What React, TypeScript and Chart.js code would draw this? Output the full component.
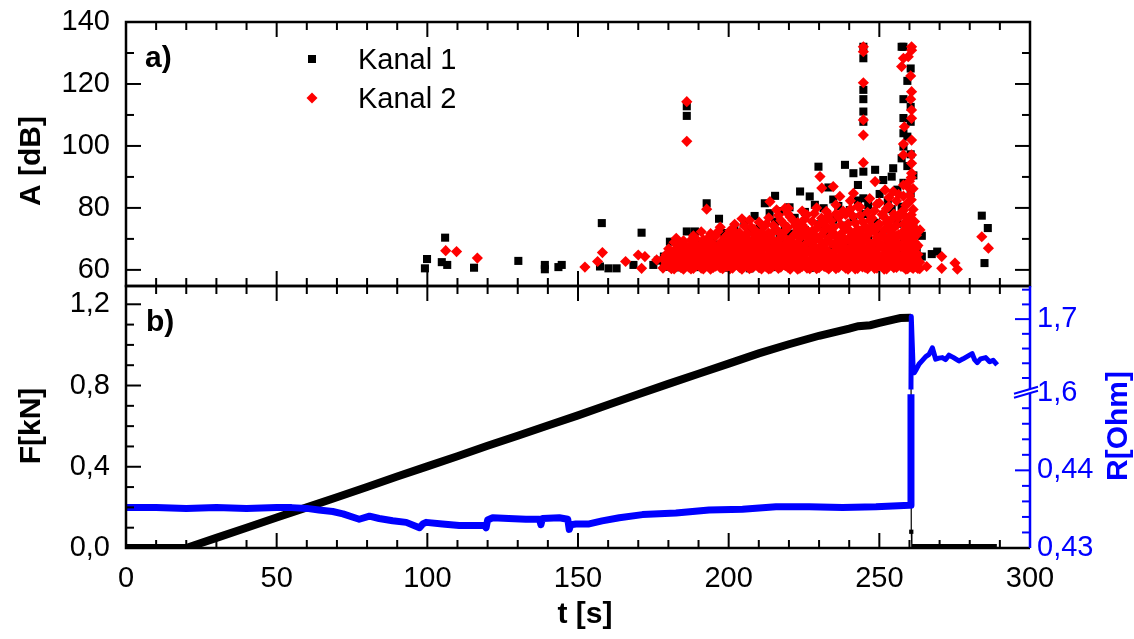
import React, { useEffect, useRef } from 'react';
import { Chart, registerables } from 'chart.js';

Chart.register(...registerables);

const FONT = "'Liberation Sans', Arial, Helvetica, sans-serif";
const BLUE = '#0000ff';
const RED = '#ff0000';
const BLACK = '#000000';
Chart.defaults.font.family = FONT;

// ---------- Panel a): acoustic emission amplitude [dB] vs time [s] ----------
// each entry: [time t (s), amplitudes A (dB) observed at that time]
const kanal1Columns: [number, number[]][] = [
  [99.2, [60.5]], [99.9, [63.5]], [104.8, [62.5]], [105.9, [70.4]], [106.6, [61.6]], [115.5, [60.7]],
  [130.2, [62.9]], [139.0, [60.2, 61.6]], [143.5, [60.9]], [144.6, [61.6]], [157.3, [61.1]], [157.9, [75.1]],
  [160.1, [60.5]], [162.8, [60.5]], [168.4, [61.6]], [171.1, [72.0]], [175.0, [61.6]], [176.5, [63.0]],
  [178.5, [61.0, 64.3]], [180.5, [62.2, 69.1]], [182.4, [60.8, 65.7]], [184.1, [63.5, 67.2]],
  [186.1, [61.6, 72.4, 109.7, 112.8]], [188.8, [60.9, 66.3, 72.4]], [190.5, [63.0, 68.8]],
  [192.7, [61.8, 66.0, 81.5]], [194.2, [64.9, 70.6]], [196.8, [62.4, 68.2, 76.5]], [198.4, [60.7, 65.4, 71.9]],
  [200.2, [63.8, 69.5]], [201.9, [61.3, 67.0, 73.8]], [203.5, [64.6, 70.9]], [205.2, [62.1, 68.4, 75.0]],
  [207.0, [60.5, 66.6, 72.7]], [208.6, [63.3, 69.8, 77.4]], [210.3, [61.9, 67.7, 74.1]], [212.0, [64.2, 71.3, 81.5]],
  [213.6, [62.7, 68.9, 78.3]], [215.4, [60.9, 66.2, 75.6, 83.9]], [216.9, [63.9, 70.2, 79.0]], [218.6, [62.3, 68.0, 73.4]],
  [220.2, [65.1, 71.7, 80.2]], [221.9, [61.4, 67.3, 76.8]], [223.7, [64.0, 69.9, 85.3]], [225.3, [62.6, 72.9, 78.7]],
  [226.9, [60.6, 66.9, 83.7]], [228.6, [63.7, 70.4, 81.0]], [229.8, [65.5, 74.7, 93.3]], [231.5, [62.0, 68.6, 79.9]],
  [233.1, [64.8, 72.0, 86.6]], [234.7, [61.2, 67.9, 76.2, 82.7]], [236.4, [63.4, 70.8, 80.6]], [238.6, [66.1, 74.3, 93.9]],
  [240.2, [62.9, 69.3, 79.3]], [241.4, [64.5, 76.9, 91.2]], [242.9, [61.7, 72.2, 82.4, 87.4]],
  [244.7, [65.8, 78.0, 83.1, 91.7, 107.8, 111.1, 115.1, 118.1, 128.3, 132.0]],
  [246.3, [63.1, 70.0, 80.8]], [248.6, [66.4, 75.2, 92.3]], [250.1, [62.5, 71.8, 84.5]], [251.3, [67.5, 77.7, 89.0]],
  [252.8, [64.1, 73.0, 82.0]], [254.1, [68.7, 79.6, 90.1]], [254.6, [92.8]], [256.0, [63.6, 74.9, 85.9]],
  [257.4, [66.8, 80.4, 96.0, 132.0]], [258.0, [70.3, 88.1, 99.8, 104.1, 109.0, 115.1, 132.0]],
  [259.3, [64.7, 76.4, 93.5, 103.0, 121.0]], [260.4, [68.0, 84.8, 97.3, 107.8, 112.6, 125.0]],
  [261.3, [62.3, 73.6, 90.5]], [262.4, [60.9, 66.5]], [264.1, [64.3, 71.0]], [267.4, [65.1]], [269.2, [65.9]],
  [284.0, [77.5]], [284.9, [62.2]], [286.0, [73.5]],
];

const kanal2Columns: [number, number[]][] = [
  [106.1, [66.2]], [109.7, [65.9]], [116.6, [63.8]], [152.3, [60.9]], [156.5, [62.7]], [158.1, [65.6]],
  [165.8, [62.7]], [170.0, [64.8]], [171.1, [60.5]], [172.2, [64.3]], [176.1, [63.2]],
  [178.2, [60.6, 63.5]], [179.2, [61.8, 64.9]], [180.1, [61.2, 64.0, 66.8]], [180.5, [65.4]], [181.0, [60.4, 62.9, 65.7]],
  [181.9, [60.3, 62.7, 65.5, 68.9]], [182.6, [61.4, 64.1, 66.9, 70.2]], [183.4, [61.5, 64.2, 67.3]],
  [184.2, [60.7, 63.1, 65.9, 68.4]], [185.0, [60.2, 62.9, 66.0, 69.4]], [185.8, [61.6, 64.6, 67.8]],
  [186.1, [101.5, 114.3]], [186.7, [61.0, 63.8, 67.1]], [187.5, [60.3, 63.0, 66.2, 69.6]],
  [188.3, [60.5, 62.4, 65.2, 68.6, 71.0]], [189.2, [61.3, 63.9, 66.7, 70.0]], [190.1, [61.7, 64.5, 66.9]],
  [190.9, [60.6, 62.7, 65.4, 68.3, 72.3]], [191.6, [60.3, 63.1, 65.8, 69.7]], [192.4, [61.9, 64.8, 67.9]],
  [192.7, [79.6]], [193.2, [61.4, 64.0, 67.5, 70.3]], [194.0, [60.2, 63.6, 66.4, 69.1, 71.7]],
  [194.9, [60.8, 62.6, 65.3, 68.1]], [195.7, [61.2, 64.0, 66.6, 70.9]], [196.5, [61.9, 64.7, 67.0, 72.4]],
  [197.2, [60.7, 62.9, 65.8, 68.7, 73.8]], [198.0, [60.4, 63.3, 66.2, 69.0]], [198.8, [61.6, 64.6, 67.3, 70.5]],
  [199.6, [61.1, 64.1, 67.8, 71.3]], [200.4, [60.3, 63.2, 66.1, 69.8, 72.6]], [201.3, [60.6, 62.9, 65.5, 68.4, 73.0]],
  [202.0, [61.5, 64.0, 67.0, 71.4, 74.7]], [202.8, [61.8, 64.6, 67.2, 70.1]], [203.6, [60.8, 62.8, 65.5, 68.9, 72.0]],
  [204.4, [60.2, 63.0, 66.1, 69.3, 76.5]], [205.2, [61.9, 64.9, 67.8, 70.6, 74.2]], [206.1, [61.3, 64.4, 67.6, 71.8]],
  [206.9, [60.4, 63.1, 66.0, 69.4, 76.0]], [207.7, [60.7, 62.5, 65.9, 69.0, 73.6]], [208.5, [61.2, 64.2, 67.2, 71.3, 73.0]],
  [209.2, [61.6, 64.8, 67.4, 70.7]], [210.1, [60.7, 62.6, 65.4, 68.6, 75.4]], [210.9, [60.3, 63.4, 66.3, 72.2]],
  [211.7, [61.8, 64.6, 67.1, 70.2, 73.9]], [212.5, [61.0, 64.0, 68.5, 74.8]], [213.3, [60.3, 63.3, 66.6, 71.9, 76.8]],
  [213.7, [82.0]], [214.0, [60.5, 62.8, 65.6, 69.9, 71.5]], [214.8, [61.3, 64.1, 67.5, 69.6, 74.4]],
  [215.6, [61.7, 64.3, 67.1, 73.2]], [215.9, [79.4]], [216.5, [60.5, 62.9, 65.9, 68.8, 72.3, 77.6]],
  [217.3, [60.9, 63.6, 66.5, 70.4, 75.9]], [218.0, [61.7, 64.5, 67.0, 70.9, 75.1]], [218.7, [79.9]],
  [218.8, [61.4, 65.0, 68.2, 72.7]], [219.6, [60.9, 63.4, 66.8, 69.1, 73.7, 78.2]], [219.8, [79.9]],
  [220.4, [60.2, 62.6, 65.7, 69.5, 77.1]], [221.3, [61.4, 64.0, 67.6, 70.8, 76.0]], [222.1, [61.2, 64.2, 67.0, 71.6, 74.3]],
  [222.9, [60.2, 62.7, 65.4, 68.7, 72.9, 75.3]], [223.6, [60.6, 63.7, 66.6, 70.2]], [224.4, [61.1, 64.3, 67.3, 71.7, 74.5, 79.0]],
  [225.2, [61.8, 64.9, 68.0, 73.5, 76.4]], [226.0, [60.6, 63.0, 66.4, 70.6, 77.8]], [226.9, [60.4, 62.9, 66.0, 69.1, 72.0]],
  [227.7, [61.9, 64.8, 68.6, 72.5, 75.6]], [228.4, [61.5, 64.5, 67.7, 71.0, 78.2]], [229.2, [60.4, 63.6, 66.6, 70.3, 73.4, 80.0]],
  [230.0, [60.7, 63.2, 66.3, 69.8, 74.5]], [230.3, [90.1]], [230.8, [61.5, 64.4, 67.9, 71.2, 76.7]], [230.9, [86.4]],
  [231.7, [61.1, 64.1, 67.3, 72.6, 75.8]], [232.4, [60.9, 63.1, 66.0, 69.0, 74.0, 78.9]], [233.2, [60.3, 62.7, 65.8, 70.3, 77.6]],
  [234.0, [61.2, 64.9, 68.6, 72.9, 75.8]], [234.7, [86.9]], [234.8, [61.6, 64.6, 68.1, 71.9, 73.7]],
  [235.6, [60.4, 63.3, 66.3, 70.7, 78.1, 81.0]], [236.5, [60.8, 63.9, 66.8, 69.6, 76.9]], [236.9, [83.7]],
  [237.3, [61.8, 64.6, 67.4, 71.0, 74.6]], [238.0, [61.3, 64.4, 67.9, 72.3, 79.0]], [238.8, [60.6, 62.9, 65.7, 69.3, 73.3, 77.9]],
  [239.6, [60.2, 62.8, 66.2, 70.0, 74.9]], [240.4, [61.4, 64.2, 67.2, 72.4, 79.6, 82.3]], [241.3, [61.7, 65.0, 68.4, 71.4, 77.3]],
  [241.4, [84.7]], [242.0, [60.3, 63.0, 66.1, 70.4, 75.1]], [242.8, [60.5, 63.4, 66.7, 69.4, 73.1, 80.5]],
  [243.6, [61.7, 64.9, 68.8, 72.3, 77.6, 80.3]], [244.4, [61.0, 64.0, 67.5, 71.1, 75.6]],
  [244.7, [94.6, 103.5, 108.4, 120.4, 130.4, 132.0]], [245.3, [60.8, 63.5, 66.6, 70.1, 74.0]],
  [246.1, [60.4, 62.6, 65.9, 69.2, 72.8, 78.6]], [246.8, [61.2, 64.1, 67.3, 71.9, 76.0, 83.0]],
  [247.6, [61.9, 64.8, 68.3, 74.1, 76.7]], [248.4, [60.5, 62.8, 65.6, 69.0, 72.6, 79.1]], [248.6, [88.5]],
  [249.2, [60.6, 63.3, 66.4, 70.6, 73.9, 81.2]], [250.0, [61.6, 64.5, 68.0, 70.3, 74.8, 81.6]],
  [250.9, [61.2, 64.3, 67.8, 71.5, 77.9]], [251.6, [60.2, 63.2, 66.7, 72.9, 77.1]], [251.9, [85.8]],
  [252.4, [60.3, 62.9, 66.1, 69.7, 75.3, 79.8]], [253.2, [61.3, 64.0, 67.1, 70.5, 74.1, 80.6, 83.4]],
  [254.0, [61.5, 64.7, 68.0, 72.1, 76.2]], [254.6, [85.3]], [254.8, [60.7, 62.6, 65.8, 69.2, 73.6, 78.0]],
  [255.7, [60.8, 63.6, 66.9, 70.8, 74.4, 82.3]], [256.4, [61.8, 64.7, 68.4, 71.4, 76.9, 84.4]],
  [257.2, [61.1, 64.2, 67.6, 71.7, 78.4]], [257.4, [125.6]], [258.0, [61.0, 63.7, 66.7, 70.4, 74.8, 79.2, 83.8, 87.4, 97.1, 100.6, 128.3]],
  [258.3, [106.2]], [258.8, [60.2, 62.7, 66.0, 69.5, 73.3, 77.0, 80.9]], [259.4, [60.4, 62.9, 65.3, 68.7, 72.1, 75.3, 81.5, 86.9]],
  [259.6, [128.8]], [260.0, [61.4, 64.5, 68.2, 72.5, 76.1, 84.0, 88.6]], [260.4, [115.1, 122.6]],
  [260.6, [60.9, 64.0, 67.0, 70.9, 73.8, 77.8, 82.6, 89.8]],
  [260.7, [91.2, 94.4, 97.1, 101.9, 108.9, 111.6, 117.5, 130.9, 132.0]],
  [261.2, [60.5, 63.0, 66.4, 70.1, 74.0, 79.5, 86.2]], [261.7, [61.3, 63.3, 65.5, 68.9, 72.4, 75.6]],
  [262.3, [60.9, 63.8, 67.2, 71.2]], [262.8, [60.5, 62.9, 65.0, 67.9]], [263.4, [60.4, 62.5]],
  [263.5, [72.9]], [265.7, [61.1]], [270.7, [60.5, 64.3]], [275.1, [62.2]], [275.9, [60.2]],
  [284.0, [70.7]], [286.2, [67.0]],
];

// ---------- Panel b): force F [kN] and resistance R [Ohm] vs time ----------
const fTime = [0, 10, 20, 30, 40, 50, 60, 70, 80, 90, 100, 110, 120, 130, 140, 150, 160, 170, 180, 190, 200, 210, 220, 230, 240, 243, 247, 250, 255, 257, 260, 260.5, 260.6, 260.8, 289];
const fForce = [0, 0, 0, 0.05, 0.1, 0.15, 0.2, 0.25, 0.3, 0.352, 0.402, 0.452, 0.503, 0.553, 0.603, 0.653, 0.705, 0.757, 0.808, 0.858, 0.908, 0.958, 1.003, 1.045, 1.08, 1.092, 1.097, 1.108, 1.126, 1.132, 1.134, 1.134, 0.08, 0, 0];

const rLowTime = [0, 10, 20, 30, 40, 50, 55, 60, 64, 68.6, 72, 77.4, 80.8, 84, 88.5, 93, 97.4, 98.5, 99.6, 105, 110.6, 115, 119, 119.5, 120, 121.7, 127, 132.7, 137.2, 137.7, 138.2, 143.8, 146.6, 147.1, 147.6, 149.3, 153.7, 158, 163.7, 171.4, 182.5, 193.5, 204.6, 215.7, 226.7, 237.8, 248.9, 260, 260.5, 260.5];
const rLowValue = [0.4352, 0.4352, 0.4351, 0.4352, 0.4351, 0.4352, 0.4352, 0.4351, 0.4349, 0.4347, 0.4344, 0.4337, 0.4341, 0.4338, 0.4335, 0.4333, 0.4326, 0.4331, 0.4333, 0.4331, 0.4329, 0.4329, 0.4329, 0.4326, 0.4336, 0.4339, 0.4338, 0.4337, 0.4337, 0.433, 0.4338, 0.4339, 0.4337, 0.4324, 0.433, 0.4331, 0.4331, 0.4335, 0.4339, 0.4343, 0.4345, 0.4349, 0.435, 0.4353, 0.4353, 0.4352, 0.4353, 0.4355, 0.4355, 0.4498];

const rHighTime = [260.5, 260.6, 261.2, 261.6, 262.3, 263.2, 264.3, 265.4, 266.5, 267.6, 268.7, 269.8, 270.9, 272.0, 273.1, 274.5, 276.4, 277.8, 279.5, 280.8, 281.6, 282.5, 283.6, 285.3, 286.6, 287.8, 289.1];
const rHighValue = [1.6045, 1.7035, 1.635, 1.627, 1.632, 1.639, 1.644, 1.649, 1.652, 1.661, 1.6455, 1.647, 1.6477, 1.645, 1.651, 1.648, 1.6432, 1.646, 1.65, 1.6531, 1.645, 1.6409, 1.646, 1.6477, 1.642, 1.644, 1.6377];

// tick labels
const tTickLabels = [0, 50, 100, 150, 200, 250, 300];
const aTickLabels = [60, 80, 100, 120, 140];
const fTickLabels = [0, 0.4, 0.8, 1.2];
const rLowTickLabels = [0.43, 0.44];
const rHighTickLabels = [1.6, 1.7];

const toPoints = (cols: [number, number[]][]) => cols.flatMap(([t, as]) => as.map((a) => ({ x: t, y: a })));
const zip = (xs: number[], ys: number[]) => xs.map((x, i) => ({ x, y: ys[i] }));

function seq(n0: number, n1: number, f: (i: number) => number) {
  const out: number[] = [];
  for (let i = n0; i <= n1; i++) out.push(f(i));
  return out;
}

type Side = 'left' | 'right' | 'top' | 'bottom';
function drawTicks(ctx: CanvasRenderingContext2D, scale: any, values: number[], side: Side, isMajor: (v: number) => boolean, area: any, color: string) {
  ctx.save();
  ctx.strokeStyle = color;
  ctx.lineWidth = 2;
  for (const v of values) {
    const len = isMajor(v) ? 15 : 8;
    const p = scale.getPixelForValue(v);
    ctx.beginPath();
    if (side === 'left') { ctx.moveTo(area.left, p); ctx.lineTo(area.left + len, p); }
    if (side === 'right') { ctx.moveTo(area.right, p); ctx.lineTo(area.right - len, p); }
    if (side === 'top') { ctx.moveTo(p, area.top); ctx.lineTo(p, area.top + len); }
    if (side === 'bottom') { ctx.moveTo(p, area.bottom); ctx.lineTo(p, area.bottom - len); }
    ctx.stroke();
  }
  ctx.restore();
}

function vText(ctx: CanvasRenderingContext2D, text: string, x: number, y: number, font: string, color: string) {
  ctx.save();
  ctx.translate(x, y);
  ctx.rotate(-Math.PI / 2);
  ctx.font = font;
  ctx.fillStyle = color;
  ctx.textAlign = 'center';
  ctx.textBaseline = 'alphabetic';
  ctx.fillText(text, 0, 0);
  ctx.restore();
}

const near = (v: number, step: number) => Math.abs(v / step - Math.round(v / step)) < 1e-6;
const tMinor = seq(0, 30, (i) => i * 10);

const topDecor = {
  id: 'topDecor',
  afterDatasetsDraw(chart: any) {
    const { ctx, chartArea: a, scales } = chart;
    const aMinor = seq(0, 8, (i) => 60 + i * 10);
    drawTicks(ctx, scales.x, tMinor, 'top', (v) => near(v, 50), a, BLACK);
    drawTicks(ctx, scales.x, tMinor, 'bottom', (v) => near(v, 50), a, BLACK);
    drawTicks(ctx, scales.y, aMinor, 'left', (v) => near(v, 20), a, BLACK);
    drawTicks(ctx, scales.y, aMinor, 'right', (v) => near(v, 20), a, BLACK);
    ctx.save();
    ctx.strokeStyle = BLACK;
    ctx.lineWidth = 2.5;
    ctx.strokeRect(a.left, a.top, a.right - a.left, a.bottom - a.top);
    // panel label
    ctx.fillStyle = BLACK;
    ctx.font = `bold 30px ${FONT}`;
    ctx.textAlign = 'left';
    ctx.textBaseline = 'alphabetic';
    ctx.fillText('a)', 145, 67);
    // legend
    ctx.fillRect(312 - 4, 59 - 4, 8, 8);
    ctx.fillStyle = RED;
    ctx.beginPath();
    ctx.moveTo(312, 98 - 5.5); ctx.lineTo(312 + 5.5, 98); ctx.lineTo(312, 98 + 5.5); ctx.lineTo(312 - 5.5, 98);
    ctx.closePath(); ctx.fill();
    ctx.fillStyle = BLACK;
    ctx.font = `29px ${FONT}`;
    ctx.fillText('Kanal 1', 358, 69);
    ctx.fillText('Kanal 2', 358, 108);
    ctx.restore();
    vText(ctx, 'A [dB]', 40, 161, `bold 30px ${FONT}`, BLACK);
  },
};

const botDecor = {
  id: 'botDecor',
  afterDatasetsDraw(chart: any) {
    const { ctx, chartArea: a, scales } = chart;
    drawTicks(ctx, scales.x, tMinor, 'top', (v) => near(v, 50), a, BLACK);
    drawTicks(ctx, scales.x, tMinor, 'bottom', (v) => near(v, 50), a, BLACK);
    drawTicks(ctx, scales.yF, seq(0, 12, (i) => i / 10), 'left', (v) => near(v, 0.4), a, BLACK);
    drawTicks(ctx, scales.rLow, seq(0, 9, (i) => 0.43 + i * 0.002), 'right', (v) => near(v, 0.01), a, BLUE);
    drawTicks(ctx, scales.rHigh, seq(1, 7, (i) => 1.6 + i * 0.02), 'right', (v) => near(v, 0.1), a, BLUE);
    ctx.save();
    ctx.lineWidth = 2.5;
    ctx.strokeStyle = BLACK;
    ctx.beginPath();
    ctx.moveTo(a.right, a.top); ctx.lineTo(a.left, a.top); ctx.lineTo(a.left, a.bottom); ctx.lineTo(a.right, a.bottom);
    ctx.stroke();
    ctx.strokeStyle = BLUE;
    ctx.beginPath();
    ctx.moveTo(a.right, a.top); ctx.lineTo(a.right, a.bottom);
    ctx.stroke();
    // axis break marks
    const yb = scales.rLow.getPixelForValue(0.45);
    const x0 = a.right - 16, x1 = a.right + 8;
    ctx.fillStyle = '#ffffff';
    ctx.beginPath();
    ctx.moveTo(x0, yb + 1); ctx.lineTo(x1, yb - 6); ctx.lineTo(x1, yb - 2); ctx.lineTo(x0, yb + 5);
    ctx.closePath(); ctx.fill();
    ctx.lineWidth = 2;
    ctx.beginPath();
    ctx.moveTo(x0, yb + 1); ctx.lineTo(x1, yb - 6);
    ctx.moveTo(x0, yb + 5); ctx.lineTo(x1, yb - 2);
    ctx.stroke();
    // panel label
    ctx.fillStyle = BLACK;
    ctx.font = `bold 30px ${FONT}`;
    ctx.textAlign = 'left';
    ctx.textBaseline = 'alphabetic';
    ctx.fillText('b)', 146, 331);
    ctx.textAlign = 'center';
    ctx.fillText('t [s]', 585, 623);
    ctx.restore();
    vText(ctx, 'F[kN]', 40, 426, `bold 30px ${FONT}`, BLACK);
    vText(ctx, 'R[Ohm]', 1127, 426, `bold 30px ${FONT}`, BLUE);
  },
};

const tickFont = { size: 29, family: FONT };
const noGrid = { display: false, drawTicks: false };
const setTicks = (vals: number[]) => (s: any) => { s.ticks = vals.map((v) => ({ value: v })); };
const fixW = (w: number) => (s: any) => { s.width = w; s.paddingTop = 0; s.paddingBottom = 0; };
const fixH = (h: number) => (s: any) => { s.height = h; s.paddingLeft = 0; s.paddingRight = 0; };

function topConfig(): any {
  return {
    type: 'scatter',
    data: {
      datasets: [
        { label: 'Kanal 1', data: toPoints(kanal1Columns), pointStyle: 'rect', pointRadius: 5.7, pointHoverRadius: 5.7, pointBackgroundColor: BLACK, pointBorderWidth: 0, order: 1 },
        { label: 'Kanal 2', data: toPoints(kanal2Columns), pointStyle: 'rectRot', pointRadius: 5.6, pointHoverRadius: 5.6, pointBackgroundColor: RED, pointBorderWidth: 0, order: 0 },
      ],
    },
    options: {
      responsive: false,
      animation: false,
      events: [],
      layout: { padding: { top: 22, right: 104, bottom: 353, left: 0 } },
      plugins: { legend: { display: false }, tooltip: { enabled: false } },
      scales: {
        x: { type: 'linear', min: 0, max: 300, display: false },
        y: {
          type: 'linear', position: 'left', min: 54.8, max: 140,
          grid: noGrid, border: { display: false },
          ticks: { font: tickFont, color: BLACK, padding: 16, autoSkip: false, callback: (v: number) => String(v) },
          afterBuildTicks: setTicks(aTickLabels),
          afterFit: fixW(126),
        },
      },
    },
    plugins: [topDecor],
  };
}

function bottomConfig(): any {
  return {
    type: 'line',
    data: {
      datasets: [
        { label: 'R', data: zip(rLowTime, rLowValue), yAxisID: 'rLow', borderColor: BLUE, borderWidth: 7, pointRadius: 0, borderJoinStyle: 'round' },
        { label: 'R2', data: zip(rHighTime, rHighValue), yAxisID: 'rHigh', borderColor: BLUE, borderWidth: 5, pointRadius: 0, borderJoinStyle: 'round' },
        {
          label: 'F', data: zip(fTime, fForce), yAxisID: 'yF', borderColor: BLACK, borderWidth: 8,
          pointStyle: 'rect', pointBackgroundColor: BLACK, pointBorderWidth: 0,
          pointRadius: (c: any) => (c.dataIndex === 32 ? 3 : 0),
          segment: { borderWidth: (c: any) => (c.p0DataIndex === 31 || c.p0DataIndex === 32 ? 1.2 : undefined) },
        },
      ],
    },
    options: {
      responsive: false,
      animation: false,
      events: [],
      layout: { padding: { top: 286, right: 0, bottom: 0, left: 0 } },
      plugins: { legend: { display: false }, tooltip: { enabled: false } },
      scales: {
        x: {
          type: 'linear', position: 'bottom', min: 0, max: 300,
          grid: noGrid, border: { display: false },
          ticks: { font: tickFont, color: BLACK, padding: 14, maxRotation: 0, minRotation: 0, autoSkip: false, callback: (v: number) => String(v) },
          afterBuildTicks: setTicks(tTickLabels),
          afterFit: fixH(91),
        },
        yF: {
          type: 'linear', position: 'left', min: 0, max: 1.29,
          grid: noGrid, border: { display: false },
          ticks: { font: tickFont, color: BLACK, padding: 16, autoSkip: false, callback: (v: number) => v.toFixed(1).replace('.', ',') },
          afterBuildTicks: setTicks(fTickLabels),
          afterFit: fixW(126),
        },
        rHigh: {
          type: 'linear', position: 'right', stack: 'R', stackWeight: 106.7, min: 1.6, max: 1.745,
          grid: noGrid, border: { display: false },
          ticks: { font: tickFont, color: BLUE, padding: 7, autoSkip: false, callback: (v: number) => v.toFixed(1).replace('.', ',') },
          afterBuildTicks: setTicks(rHighTickLabels),
          afterFit: fixW(104),
        },
        rLow: {
          type: 'linear', position: 'right', stack: 'R', stackWeight: 155.3, min: 0.43, max: 0.45,
          grid: noGrid, border: { display: false },
          ticks: { font: tickFont, color: BLUE, padding: 7, autoSkip: false, callback: (v: number) => v.toFixed(2).replace('.', ',') },
          afterBuildTicks: setTicks(rLowTickLabels),
          afterFit: fixW(104),
        },
      },
    },
    plugins: [botDecor],
  };
}

export default function App() {
  const topRef = useRef<HTMLCanvasElement>(null);
  const botRef = useRef<HTMLCanvasElement>(null);
  useEffect(() => {
    const c1 = new Chart(topRef.current as HTMLCanvasElement, topConfig());
    const c2 = new Chart(botRef.current as HTMLCanvasElement, bottomConfig());
    return () => {
      c1.destroy();
      c2.destroy();
    };
  }, []);
  return (
    <div style={{ position: 'absolute', left: 0, top: 0, width: 1134, height: 639, background: '#ffffff', overflow: 'hidden' }}>
      <canvas ref={topRef} width={1134} height={639} style={{ position: 'absolute', left: 0, top: 0, width: 1134, height: 639 }} />
      <canvas ref={botRef} width={1134} height={639} style={{ position: 'absolute', left: 0, top: 0, width: 1134, height: 639 }} />
    </div>
  );
}
